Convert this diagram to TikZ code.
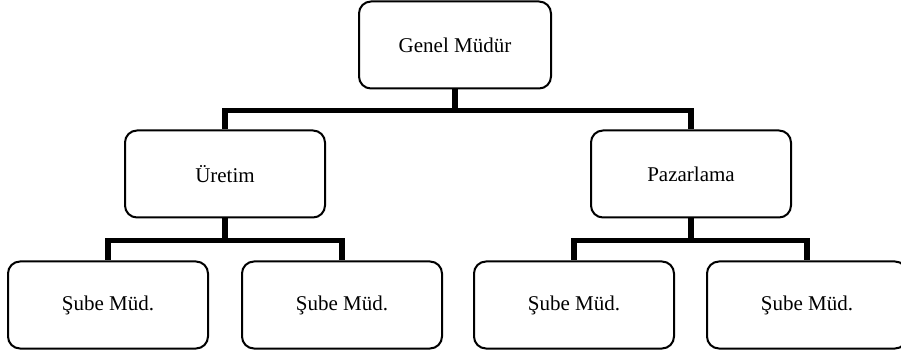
\documentclass[tikz,border=0pt]{standalone}
\usepackage{fontspec}
\setmainfont{Liberation Serif}
\usetikzlibrary{positioning}

\begin{document}
\begin{tikzpicture}[
  x=0.5pt, y=-0.5pt,
  unitbox/.style={draw=black, line width=1pt, rounded corners=6pt, fill=white,
    minimum width=100pt, minimum height=43.5pt, inner sep=0pt,
    font=\fontsize{10.5}{12}\selectfont},
  link/.style={line width=2.6pt, black},
]

% Frame
\clip (0,0) rectangle (901,353);
\fill[white] (0,0) rectangle (901,353);

% =============================================
% Boxes
% =============================================
\node[unitbox, minimum width=96pt] (gm) at (455,45) {Genel Müdür};

\node[unitbox] (ur) at (225,174) {Üretim};
\node[unitbox] (pz) at (691,174) {Pazarlama};

\foreach \i/\x in {1/108, 2/342, 3/574, 4/807} {
  \node[unitbox] (sb\i) at (\x,305) {Şube Müd.};
}

% =============================================
% Connectors
% =============================================
\draw[link] (gm.south) -- ++(0,21) -| (ur.north);
\draw[link] (gm.south) -- ++(0,21) -| (pz.north);

\draw[link] (ur.south) -- ++(0,22) -| (sb1.north);
\draw[link] (ur.south) -- ++(0,22) -| (sb2.north);
\draw[link] (pz.south) -- ++(0,22) -| (sb3.north);
\draw[link] (pz.south) -- ++(0,22) -| (sb4.north);

\end{tikzpicture}
\end{document}
